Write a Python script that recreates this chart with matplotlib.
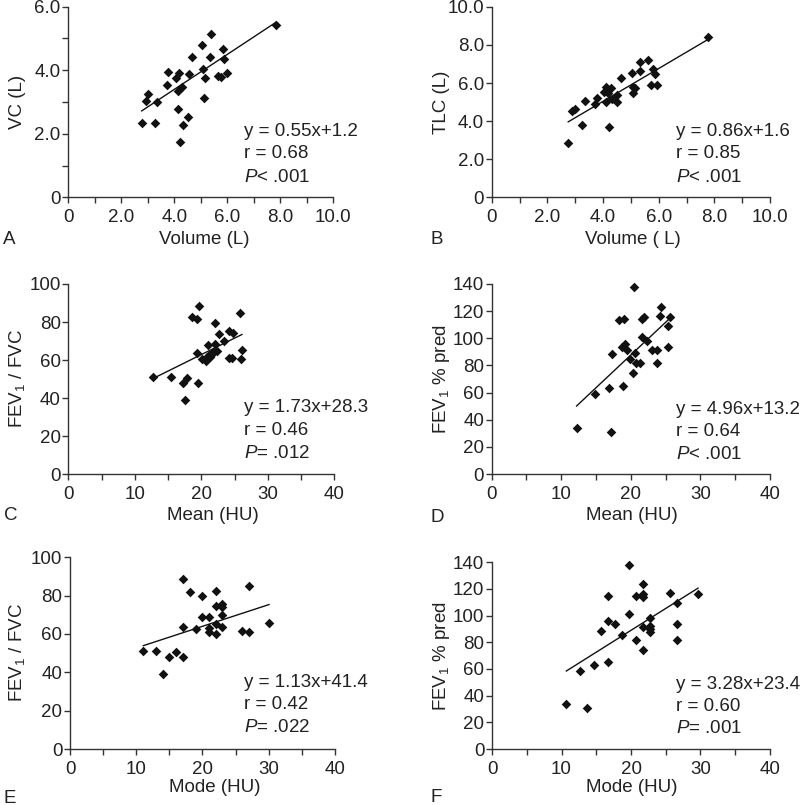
import matplotlib
matplotlib.use("Agg")
import matplotlib.pyplot as plt
import numpy as np

plt.rcParams['font.family'] = ['Liberation Sans', 'DejaVu Sans']
plt.rcParams['mathtext.fontset'] = 'custom'
plt.rcParams['mathtext.rm'] = 'Liberation Sans'
plt.rcParams['mathtext.it'] = 'Liberation Sans:italic'
plt.rcParams['mathtext.bf'] = 'Liberation Sans:bold'

# ---------------- data ----------------
a_x = [2.77, 2.92, 3.0, 3.35, 3.27, 3.77, 3.71, 4.05, 4.19, 4.13, 4.3, 4.13, 4.32, 4.23, 4.53,
       4.55, 4.66, 5.06, 5.07, 5.16, 5.37, 5.36, 5.11, 5.64, 5.75, 5.85, 5.89, 5.98, 7.83]
a_y = [2.34, 3.05, 3.27, 3.0, 2.34, 3.94, 3.55, 3.76, 3.92, 3.35, 3.49, 2.78, 2.27, 1.73, 2.53,
       3.89, 4.41, 4.8, 4.03, 3.76, 5.14, 4.43, 3.13, 3.82, 3.79, 4.67, 4.36, 3.9, 5.43]

b_x = [2.75, 2.9, 2.99, 3.35, 3.26, 3.77, 3.71, 4.03, 4.1, 4.11, 4.19, 4.29, 4.31, 4.21, 4.51,
       4.51, 4.65, 5.03, 5.07, 5.15, 5.09, 5.34, 5.34, 5.62, 5.72, 5.81, 5.87, 5.95, 7.78]
b_y = [2.84, 4.54, 4.66, 5.08, 3.79, 5.22, 4.9, 5.53, 5.81, 5.03, 5.47, 5.73, 5.15, 3.68, 5.38,
       5.03, 6.27, 6.55, 5.5, 5.73, 5.78, 7.09, 6.65, 7.2, 5.88, 6.71, 6.45, 5.88, 8.42]

c_x = [12.8, 15.4, 17.3, 17.8, 17.55, 19.5, 18.66, 19.3, 19.65, 19.3, 20.06, 20.66, 20.86, 20.96,
       21.1, 21.35, 21.56, 21.76, 22.06, 22.36, 22.1, 22.7, 23.46, 24.17, 24.8, 24.2, 24.6, 25.8,
       26.1, 25.9]
c_y = [50.9, 50.9, 47.8, 50.6, 39.0, 47.9, 82.4, 81.7, 88.4, 63.5, 60.4, 59.7, 61.4, 68.1,
       62.6, 61.4, 63.2, 64.1, 68.4, 64.9, 79.6, 73.5, 69.8, 75.1, 74.2, 61.2, 61.2, 84.5,
       65.3, 60.5]

d_x = [12.2, 17.1, 14.9, 16.8, 17.33, 18.87, 18.3, 19.06, 18.77, 19.1, 19.5, 19.9, 20.6, 20.3,
       20.4, 20.7, 21.3, 21.55, 21.9, 21.6, 22.3, 23.0, 23.7, 23.8, 24.2, 24.3, 25.4, 25.6, 25.3]
d_y = [34.1, 30.7, 59.0, 63.1, 88.4, 65.1, 113.3, 114.5, 93.9, 95.8, 91.2, 85.0, 88.9, 74.2,
       137.6, 81.6, 81.6, 114.0, 115.9, 101.2, 98.0, 91.2, 91.2, 81.6, 116.7, 122.8, 109.1,
       115.9, 93.4]

e_x = [11.07, 13.03, 14.1, 15.0, 16.05, 17.06, 17.06, 17.06, 18.06, 19.07, 20.0, 20.0, 21.03,
       21.03, 21.03, 22.0, 22.0, 22.0, 22.0, 23.0, 23.0, 23.0, 23.0, 25.96, 26.97, 27.07, 30.04]
e_y = [51.1, 51.1, 39.3, 48.0, 50.8, 48.2, 88.5, 63.6, 82.1, 62.6, 80.0, 68.7, 69.0, 63.3, 61.2,
       82.6, 74.6, 65.0, 60.0, 75.5, 73.9, 70.1, 63.8, 61.4, 61.2, 85.2, 65.6]

f_x = [10.7, 13.67, 12.66, 14.68, 16.7, 15.68, 16.7, 16.7, 17.7, 18.7, 19.67, 19.67, 20.7, 20.7,
       21.7, 21.7, 21.7, 21.7, 21.7, 22.7, 22.7, 22.7, 22.7, 25.66, 26.67, 26.67, 26.67, 29.64]
f_y = [33.8, 30.5, 58.7, 63.2, 65.0, 88.7, 115.0, 96.0, 93.5, 85.3, 138.3, 101.5, 114.5, 81.5,
       123.5, 116.5, 113.8, 91.3, 74.3, 98.5, 92.0, 90.3, 88.0, 117.3, 109.5, 93.5, 81.8, 116.3]

# fitted lines as drawn in the figure
line_slopes = [0.55, 0.86, 1.73, 4.82, 1.13, 3.28]
line_intercepts = [1.2, 1.6, 28.3, -8.7, 41.4, 23.4]
eq_texts = ["y = 0.55x+1.2", "y = 0.86x+1.6", "y = 1.73x+28.3",
            "y = 4.96x+13.2", "y = 1.13x+41.4", "y = 3.28x+23.4"]
r_texts = ["r = 0.68", "r = 0.85", "r = 0.46", "r = 0.64", "r = 0.42", "r = 0.60"]
p_texts = [r"$\mathit{P}$< .001", r"$\mathit{P}$< .001", r"$\mathit{P}$= .012",
           r"$\mathit{P}$< .001", r"$\mathit{P}$= .022", r"$\mathit{P}$= .001"]
x_labels = ["Volume (L)", "Volume ( L)", "Mean (HU)", "Mean (HU)", "Mode (HU)", "Mode (HU)"]
y_labels = ["VC (L)", "TLC (L)", "FEV$_1$ / FVC", "FEV$_1$ % pred", "FEV$_1$ / FVC", "FEV$_1$ % pred"]
letters = ["A", "B", "C", "D", "E", "F"]

x_ticks_major = [[0, 2, 4, 6, 8, 10]] * 2 + [[0, 10, 20, 30, 40]] * 4
x_tick_labels = [["0", "2.0", "4.0", "6.0", "8.0", "10.0"]] * 2 + [["0", "10", "20", "30", "40"]] * 4
x_ticks_minor = [[1, 3, 5, 7, 9]] * 2 + [[5, 15, 25, 35]] * 4
y_ticks_major = [[0, 2, 4, 6], [0, 2, 4, 6, 8, 10], [0, 20, 40, 60, 80, 100],
                 [0, 20, 40, 60, 80, 100, 120, 140], [0, 20, 40, 60, 80, 100],
                 [0, 20, 40, 60, 80, 100, 120, 140]]
y_tick_labels = [["0", "2.0", "4.0", "6.0"], ["0", "2.0", "4.0", "6.0", "8.0", "10.0"],
                 ["0", "20", "40", "60", "80", "100"],
                 ["0", "20", "40", "60", "80", "100", "120", "140"],
                 ["0", "20", "40", "60", "80", "100"],
                 ["0", "20", "40", "60", "80", "100", "120", "140"]]
y_ticks_minor = [[1, 3, 5], [], [], [], [], []]

xs = [a_x, b_x, c_x, d_x, e_x, f_x]
ys = [a_y, b_y, c_y, d_y, e_y, f_y]

# ---------------- layout (pixels) ----------------
W, H = 800, 805
boxes = [(68.3, 333.3, 6.7, 197.5), (491.7, 770, 6.7, 197.5),
         (68.3, 334.3, 284, 474.3), (491.7, 770, 284, 474.0),
         (70, 335, 557.3, 749), (492, 770, 562.3, 749)]
text_x = [244, 676, 244, 676, 244, 676]
text_y = [(132, 154, 177), (132, 154, 177), (407, 430, 453), (409, 432, 454),
          (682, 704, 727), (684, 706, 728)]
xlabel_pos = [(204, 240), (633, 240), (213, 515), (632, 515), (215, 787), (632, 787)]
ylabel_pos = [(18, 102), (441, 102), (17, 379), (441, 379), (17, 653), (441, 656)]
letter_pos = [(0, 240), (427, 240), (1, 516), (427, 517), (0, 798), (427, 797)]

fig = plt.figure(figsize=(W / 100, H / 100), dpi=100)
fs = 13.5
col = '#222222'
for i in range(6):
    l, r, t, b = boxes[i]
    ax = fig.add_axes([l / W, 1 - b / H, (r - l) / W, (b - t) / H])
    ax.set_xlim(x_ticks_major[i][0], x_ticks_major[i][-1])
    ax.set_ylim(y_ticks_major[i][0], y_ticks_major[i][-1])
    ax.scatter(xs[i], ys[i], marker='D', s=24, color='#111111', linewidths=0, clip_on=False, zorder=3)
    xx = np.array([min(xs[i]), max(xs[i])])
    ax.plot(xx, line_slopes[i] * xx + line_intercepts[i], color='#111111', lw=1.0, zorder=2)
    for s in ['top', 'right']:
        ax.spines[s].set_visible(False)
    for s in ['left', 'bottom']:
        ax.spines[s].set_color('#333333')
        ax.spines[s].set_linewidth(1.0)
    ax.set_xticks(x_ticks_major[i])
    ax.set_xticklabels(x_tick_labels[i])
    ax.set_xticks(x_ticks_minor[i], minor=True)
    ax.set_yticks(y_ticks_major[i])
    ax.set_yticklabels(y_tick_labels[i])
    ax.set_yticks(y_ticks_minor[i], minor=True)
    ax.tick_params(axis='both', which='both', direction='out', length=4, width=1.0,
                   color='#333333', labelsize=fs, labelcolor=col)
    ax.tick_params(axis='x', which='both', pad=4.5)
    ax.tick_params(axis='y', which='both', pad=1.5)
    for k, txt in enumerate([eq_texts[i], r_texts[i], p_texts[i]]):
        fig.text(text_x[i] / W, 1 - text_y[i][k] / H, txt, fontsize=fs, color=col,
                 ha='left', va='center')
    fig.text(xlabel_pos[i][0] / W, 1 - xlabel_pos[i][1] / H, x_labels[i], fontsize=fs,
             color=col, ha='center', va='center')
    fig.text(ylabel_pos[i][0] / W, 1 - ylabel_pos[i][1] / H, y_labels[i], fontsize=fs,
             color=col, ha='center', va='center', rotation=90)
    fig.text(letter_pos[i][0] / W + 0.004, 1 - letter_pos[i][1] / H, letters[i], fontsize=fs,
             color=col, ha='left', va='center')

fig.savefig('out.png', dpi=100, facecolor='white')
